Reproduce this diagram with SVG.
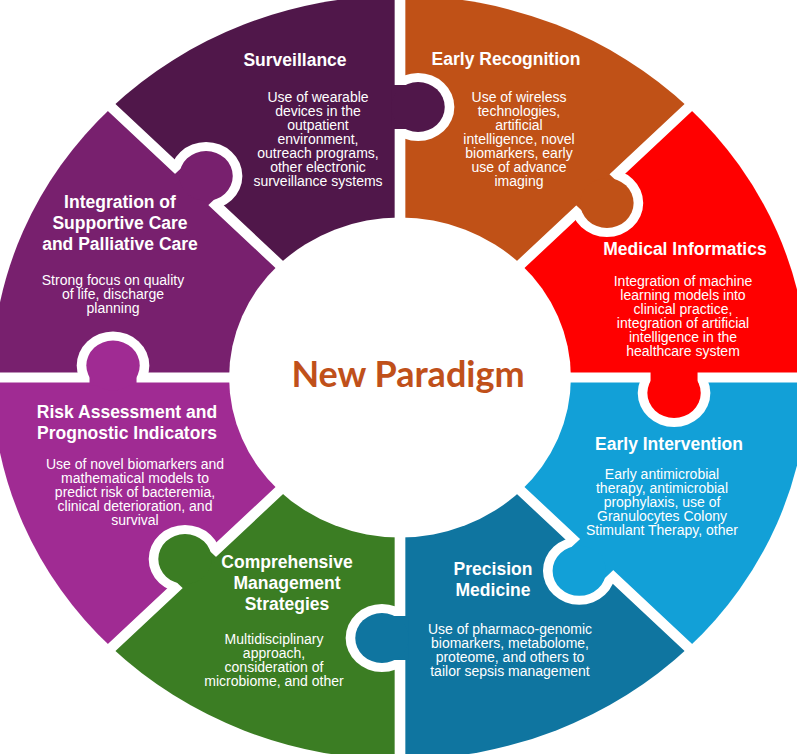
<svg xmlns="http://www.w3.org/2000/svg" width="797" height="754" viewBox="0 0 797 754">
<defs>
<style>
.h{font-family:"Liberation Sans",Arial,sans-serif;font-weight:bold;font-size:17.5px;fill:#fff;text-anchor:middle}
.b{font-family:"Liberation Sans",Arial,sans-serif;font-size:14px;fill:#fff;text-anchor:middle}
.gap{stroke:#fff;stroke-width:10;fill:none}
.ring{fill:#fff}
</style>
<clipPath id="rcv"><rect x="-600" y="0" width="1200" height="600"/></clipPath>
</defs>
<rect width="797" height="754" fill="#fff"/>

<g id="early-recognition">
<path transform="translate(400 377.5) scale(1.068 1)" fill="#C05117" d="M0 0L0 -382A382 382 0 0 1 270.1 -270.1Z"/>
<text class="h" x="506" y="65">Early Recognition</text>
<text class="b"><tspan x="519" y="101.7">Use of wireless</tspan><tspan x="519" dy="14">technologies,</tspan><tspan x="519" dy="14">artificial</tspan><tspan x="519" dy="14">intelligence, novel</tspan><tspan x="519" dy="14">biomarkers, early</tspan><tspan x="519" dy="14">use of advance</tspan><tspan x="519" dy="14">imaging</tspan></text>
</g>

<g id="medical-informatics">
<path transform="translate(400 377.5) scale(1.068 1)" fill="#FF0000" d="M0 0L270.1 -270.1A382 382 0 0 1 382 0Z"/>
<text class="h" x="685" y="255">Medical Informatics</text>
<text class="b"><tspan x="683" y="286">Integration of machine</tspan><tspan x="683" dy="14">learning models into</tspan><tspan x="683" dy="14">clinical practice,</tspan><tspan x="683" dy="14">integration of artificial</tspan><tspan x="683" dy="14">intelligence in the</tspan><tspan x="683" dy="14">healthcare system</tspan></text>
</g>

<g id="early-intervention">
<path transform="translate(400 377.5) scale(1.068 1)" fill="#12A0D7" d="M0 0L382 0A382 382 0 0 1 270.1 270.1Z"/>
<text class="h" x="669" y="450">Early Intervention</text>
<text class="b"><tspan x="662" y="479.3">Early antimicrobial</tspan><tspan x="662" dy="14">therapy, antimicrobial</tspan><tspan x="662" dy="14">prophylaxis, use of</tspan><tspan x="662" dy="14">Granulocytes Colony</tspan><tspan x="662" dy="14">Stimulant Therapy, other</tspan></text>
</g>

<g id="precision-medicine">
<path transform="translate(400 377.5) scale(1.068 1)" fill="#0F75A0" d="M0 0L270.1 270.1A382 382 0 0 1 0 382Z"/>
<text class="h"><tspan x="493" y="575">Precision</tspan><tspan x="493" dy="21">Medicine</tspan></text>
<text class="b"><tspan x="510" y="634.3">Use of pharmaco-genomic</tspan><tspan x="510" dy="14">biomarkers, metabolome,</tspan><tspan x="510" dy="14">proteome, and others to</tspan><tspan x="510" dy="14">tailor sepsis management</tspan></text>
</g>

<g id="comprehensive-management">
<path transform="translate(400 377.5) scale(1.068 1)" fill="#3B7D23" d="M0 0L0 382A382 382 0 0 1 -270.1 270.1Z"/>
<text class="h"><tspan x="287" y="568">Comprehensive</tspan><tspan x="287" dy="21">Management</tspan><tspan x="287" dy="21">Strategies</tspan></text>
<text class="b"><tspan x="274" y="643.7">Multidisciplinary</tspan><tspan x="274" dy="14">approach,</tspan><tspan x="274" dy="14">consideration of</tspan><tspan x="274" dy="14">microbiome, and other</tspan></text>
</g>

<g id="risk-assessment">
<path transform="translate(400 377.5) scale(1.068 1)" fill="#A02B93" d="M0 0L-270.1 270.1A382 382 0 0 1 -382 0Z"/>
<text class="h"><tspan x="127" y="418">Risk Assessment and</tspan><tspan x="127" dy="21">Prognostic Indicators</tspan></text>
<text class="b"><tspan x="135" y="469.3">Use of novel biomarkers and</tspan><tspan x="135" dy="14">mathematical models to</tspan><tspan x="135" dy="14">predict risk of bacteremia,</tspan><tspan x="135" dy="14">clinical deterioration, and</tspan><tspan x="135" dy="14">survival</tspan></text>
</g>

<g id="supportive-palliative-care">
<path transform="translate(400 377.5) scale(1.068 1)" fill="#78206E" d="M0 0L-382 0A382 382 0 0 1 -270.1 -270.1Z"/>
<text class="h"><tspan x="120" y="208">Integration of</tspan><tspan x="120" dy="21">Supportive Care</tspan><tspan x="120" dy="21">and Palliative Care</tspan></text>
<text class="b"><tspan x="113" y="285">Strong focus on quality</tspan><tspan x="113" dy="14">of life, discharge</tspan><tspan x="113" dy="14">planning</tspan></text>
</g>

<g id="surveillance">
<path transform="translate(400 377.5) scale(1.068 1)" fill="#50174A" d="M0 0L-270.1 -270.1A382 382 0 0 1 0 -382Z"/>
<text class="h" x="295" y="66">Surveillance</text>
<text class="b"><tspan x="318" y="101.7">Use of wearable</tspan><tspan x="318" dy="14">devices in the</tspan><tspan x="318" dy="14">outpatient</tspan><tspan x="318" dy="14">environment,</tspan><tspan x="318" dy="14">outreach programs,</tspan><tspan x="318" dy="14">other electronic</tspan><tspan x="318" dy="14">surveillance systems</tspan></text>
</g>

<g id="center">
<ellipse cx="400" cy="377.5" rx="170.9" ry="160" fill="#fff"/>
<text x="408" y="387" font-family="Lato,'Liberation Sans',sans-serif" font-weight="bold" font-size="36" fill="#C0501A" text-anchor="middle">New Paradigm</text>
</g>

<g id="connectors">
<g transform="translate(400 377.5) scale(1.068 1)">
<path class="gap" d="M0 -150V-420M106 -106L300 -300M150 0H420M106 106L300 300M0 150V420M-106 106L-300 300M-150 0H-420M-106 -106L-300 -300"/>
<g transform="rotate(-90)"><circle class="ring" cx="270.5" cy="16.9" r="34" clip-path="url(#rcv)"/><rect x="248.5" y="-8" width="44" height="24.9" fill="#50174A"/><circle cx="270.5" cy="16.9" r="25" fill="#50174A"/></g>
<g transform="rotate(-45)"><circle class="ring" cx="260.4" cy="13.6" r="34" clip-path="url(#rcv)"/><rect x="238.4" y="-8" width="44" height="21.6" fill="#C05117"/><circle cx="260.4" cy="13.6" r="25" fill="#C05117"/></g>
<g><circle class="ring" cx="256.6" cy="15.5" r="34" clip-path="url(#rcv)"/><rect x="234.6" y="-8" width="44" height="23.5" fill="#FF0000"/><circle cx="256.6" cy="15.5" r="25" fill="#FF0000"/></g>
<g transform="rotate(45)"><circle class="ring" cx="255.4" cy="18" r="34" clip-path="url(#rcv)"/><rect x="233.4" y="-8" width="44" height="26" fill="#12A0D7"/><circle cx="255.4" cy="18" r="25" fill="#12A0D7"/></g>
<g transform="rotate(90)"><circle class="ring" cx="260.5" cy="16.9" r="34" clip-path="url(#rcv)"/><rect x="238.5" y="-8" width="44" height="24.9" fill="#0F75A0"/><circle cx="260.5" cy="16.9" r="25" fill="#0F75A0"/></g>
<g transform="rotate(135)"><circle class="ring" cx="270.7" cy="14" r="34" clip-path="url(#rcv)"/><rect x="248.7" y="-8" width="44" height="22" fill="#3B7D23"/><circle cx="270.7" cy="14" r="25" fill="#3B7D23"/></g>
<g transform="rotate(180)"><circle class="ring" cx="268.7" cy="12" r="34" clip-path="url(#rcv)"/><rect x="246.7" y="-8" width="44" height="20" fill="#A02B93"/><circle cx="268.7" cy="12" r="25" fill="#A02B93"/></g>
<g transform="rotate(225)"><circle class="ring" cx="270.9" cy="14.1" r="34" clip-path="url(#rcv)"/><rect x="248.9" y="-8" width="44" height="22.1" fill="#78206E"/><circle cx="270.9" cy="14.1" r="25" fill="#78206E"/></g>
</g>
</g>
</svg>
